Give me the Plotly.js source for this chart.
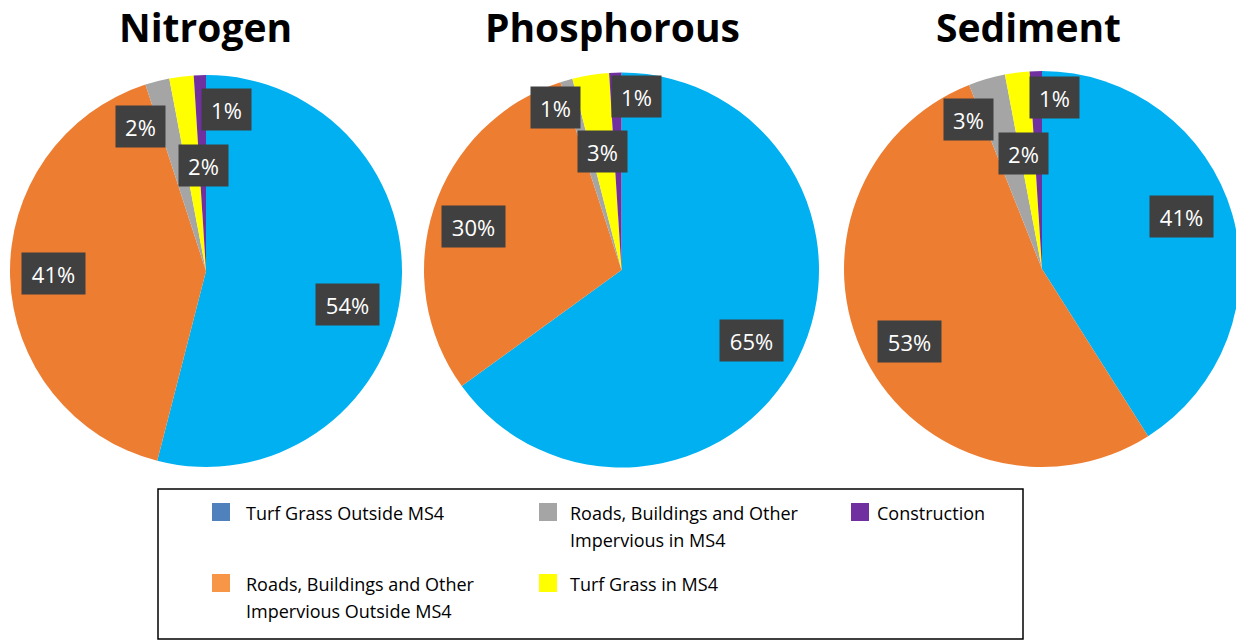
<!DOCTYPE html>
<html>
<head>
<meta charset="utf-8">
<script src="https://cdn.plot.ly/plotly-3.0.1.min.js"></script>
<style>
  html, body { margin: 0; padding: 0; overflow: hidden; background: #fff; }
</style>
</head>
<body>
<div id="chart-container"></div>
<script>
const CATEGORIES = [
  'Turf Grass Outside MS4',
  'Roads, Buildings and Other Impervious Outside MS4',
  'Roads, Buildings and Other Impervious in MS4',
  'Turf Grass in MS4',
  'Construction',
];
const POLLUTANTS = ['Nitrogen', 'Phosphorous', 'Sediment'];
const NITROGEN = [54, 41, 2, 2, 1];
const PHOSPHOROUS = [65, 30, 1, 3, 1];
const SEDIMENT = [41, 53, 3, 2, 1];
const POLLUTANT_VALUES = [NITROGEN, PHOSPHOROUS, SEDIMENT];

const SLICE_COLORS = ['#00B0F0', '#ED7D31', '#A5A5A5', '#FFFF00', '#7030A0'];
const LEGEND_COLORS = ['#4F81BD', '#F79646', '#A5A5A5', '#FFFF00', '#7030A0'];

// page geometry (px)
const W = 1240;
const H = 640;
const PIE_CX = [206, 621.5, 1042];
const PIE_CY = [271, 270, 269];
const PIE_R = [196, 197.5, 198];
const TITLE_X = [205, 612, 1028];
const TITLE_Y = 26;

// where each slice label sits, per pie: fraction of radius and angle nudge (deg)
const LABEL_RADIUS = [
  [0.74, 0.78, 0.81, 0.54, 0.83],
  [0.75, 0.78, 0.89, 0.61, 0.88],
  [0.75, 0.76, 0.84, 0.59, 0.87],
];
const LABEL_SHIFT = [
  [6, 0.7, -10, 6, 9],
  [1.5, -1.7, -6, 0, 6.6],
  [-4.3, -1.6, -10, -1.7, 6],
];

const FONT = '"Open Sans", "Noto Sans", sans-serif';

const px = x => x / W;
const py = y => 1 - y / H;

let plotData = [];
const plotLayout = {
  width: W,
  height: H,
  margin: { t: 0, b: 0, l: 0, r: 0 },
  paper_bgcolor: '#ffffff',
  showlegend: false,
  annotations: [],
  shapes: [],
};

POLLUTANTS.forEach((name, i) => {
  const values = POLLUTANT_VALUES[i];
  const cx = PIE_CX[i], cy = PIE_CY[i], r = PIE_R[i];

  plotData.push({
    type: 'pie',
    name: name,
    labels: CATEGORIES,
    values: values,
    sort: false,
    direction: 'clockwise',
    rotation: 0,
    textinfo: 'none',
    hoverinfo: 'label+percent',
    marker: { colors: SLICE_COLORS, line: { width: 0 } },
    domain: {
      x: [px(cx - r), px(cx + r)],
      y: [py(cy + r), py(cy - r)],
    },
  });

  // pie title
  plotLayout.annotations.push({
    text: name,
    xref: 'paper', yref: 'paper',
    x: px(TITLE_X[i]), y: py(TITLE_Y),
    xanchor: 'center', yanchor: 'middle',
    showarrow: false,
    font: { family: FONT, size: 39, color: '#000000', weight: 'bold' },
  });

  // percentage labels in dark boxes
  const total = values.reduce((a, b) => a + b, 0);
  let cum = 0;
  values.forEach((v, k) => {
    const theta = (360 * (cum + v / 2) / total + LABEL_SHIFT[i][k]) * Math.PI / 180;
    cum += v;
    const f = LABEL_RADIUS[i][k];
    const lx = cx + f * r * Math.sin(theta);
    const ly = cy - f * r * Math.cos(theta);
    const text = Math.round(v / total * 100) + '%';
    plotLayout.annotations.push({
      text: text,
      xref: 'paper', yref: 'paper',
      x: px(lx), y: py(ly),
      xanchor: 'center', yanchor: 'middle',
      showarrow: false,
      width: 21 + 14 * text.length,
      height: 41,
      borderpad: 0,
      bgcolor: '#404040',
      font: { family: FONT, size: 22, color: '#ffffff' },
    });
  });
});

// legend drawn by hand: box, swatches and wrapped labels
const LEGEND_BOX = { x0: 158, x1: 1023, y0: 489, y1: 639 };
const LEGEND_SWATCH_X = [212, 539, 851];
const LEGEND_TEXT_X = [244, 568, 875];
const LEGEND_ROW_Y = [512, 583];
const LEGEND_LINE_STEP = 27;
const SWATCH = 18;

plotLayout.shapes.push({
  type: 'rect',
  xref: 'paper', yref: 'paper',
  x0: px(LEGEND_BOX.x0), x1: px(LEGEND_BOX.x1),
  y0: py(LEGEND_BOX.y1), y1: py(LEGEND_BOX.y0),
  line: { color: '#000000', width: 1.5 },
  fillcolor: 'rgba(0,0,0,0)',
});

function wrapLabel(label, maxChars) {
  const lines = [];
  let line = '';
  label.split(' ').forEach(word => {
    const next = line ? line + ' ' + word : word;
    if (next.length > maxChars && line) {
      lines.push(line);
      line = word;
    } else {
      line = next;
    }
  });
  if (line) lines.push(line);
  return lines;
}

CATEGORIES.forEach((cat, i) => {
  const col = Math.floor(i / 2);
  const row = i % 2;
  const sx = LEGEND_SWATCH_X[col];
  const sy = LEGEND_ROW_Y[row];
  plotLayout.shapes.push({
    type: 'rect',
    xref: 'paper', yref: 'paper',
    x0: px(sx), x1: px(sx + SWATCH),
    y0: py(sy + SWATCH / 2), y1: py(sy - SWATCH / 2),
    line: { width: 0 },
    fillcolor: LEGEND_COLORS[i],
  });
  wrapLabel(cat, 26).forEach((line, j) => {
    plotLayout.annotations.push({
      text: line,
      xref: 'paper', yref: 'paper',
      x: px(LEGEND_TEXT_X[col]), y: py(sy + 1 + j * LEGEND_LINE_STEP),
      xanchor: 'left', yanchor: 'middle',
      showarrow: false,
      font: { family: FONT, size: 18, color: '#000000' },
    });
  });
});

const plotConfig = {
  displayModeBar: false,
  responsive: false,
};

Plotly.newPlot('chart-container', plotData, plotLayout, plotConfig);
</script>
</body>
</html>
